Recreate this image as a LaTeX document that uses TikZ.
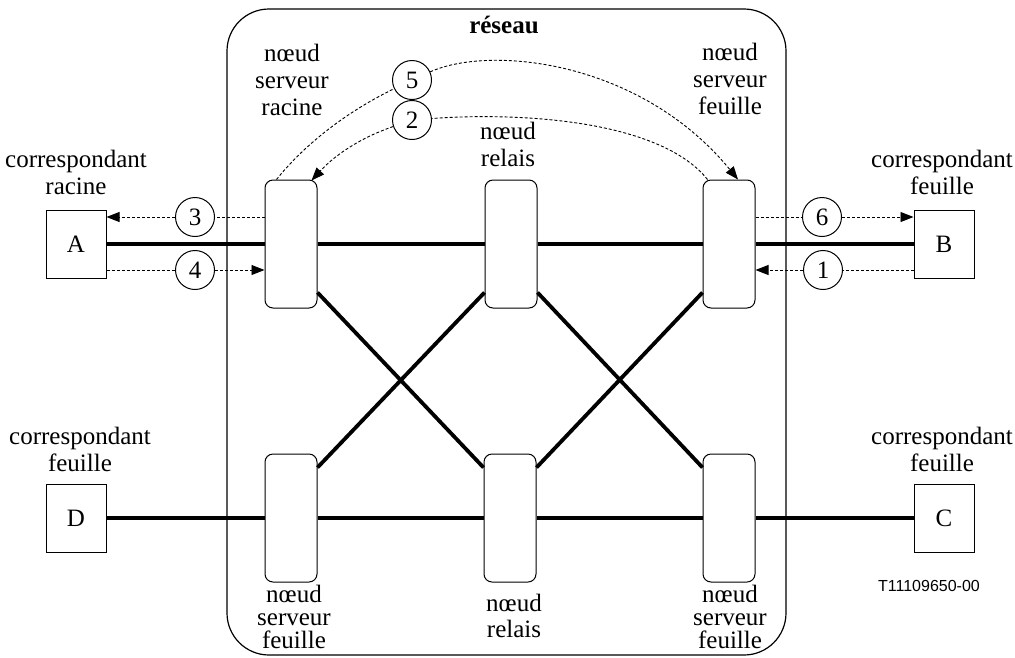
\documentclass[tikz,border=0pt]{standalone}
\usepackage{fontspec}
\setmainfont{Liberation Serif}
\newfontfamily\labelsans{Liberation Sans}
\usetikzlibrary{arrows.meta,calc}
\begin{document}
\begin{tikzpicture}[x=1pt,y=-1pt,
  every node/.style={font=\fontsize{25}{27}\selectfont},
  lbl/.style={align=center, inner sep=0pt},
  lbltight/.style={align=center, inner sep=0pt, font=\fontsize{25}{23}\selectfont},
  term/.style={draw, line width=1pt, minimum width=60pt, minimum height=68pt, inner sep=0pt},
  sw/.style={draw, line width=1pt, rounded corners=8pt, minimum width=52pt, minimum height=128pt, inner sep=0pt},
  num/.style={draw, circle, line width=1pt, minimum size=39pt, inner sep=0pt},
  link/.style={line width=3.8pt},
  sig/.style={line width=0.9pt, dash pattern=on 3pt off 2pt},
  tip/.style={-{Triangle[length=13pt,width=10pt]}},
]
\useasboundingbox (0,0) rectangle (1015,657);

% network boundary
\draw[line width=1.2pt, rounded corners=42pt] (227,9) rectangle (786,655);
\node[font=\bfseries\fontsize{25}{27}\selectfont] (title) at (504,25) {réseau};

% switching nodes
\node[sw] (n1) at (291,244) {};
\node[sw] (n2) at (511,244) {};
\node[sw] (n3) at (729,244) {};
\node[sw] (m1) at (291,518) {};
\node[sw] (m2) at (510,518) {};
\node[sw] (m3) at (729,518) {};

% end points
\node[term] (A) at (76,244) {A};
\node[term] (B) at (944,244) {B};
\node[term] (D) at (76,518) {D};
\node[term] (C) at (944,518) {C};

% physical links
\draw[link] (A) -- (n1) (n1) -- (n2) (n2) -- (n3) (n3) -- (B);
\draw[link] (D) -- (m1) (m1) -- (m2) (m2) -- (m3) (m3) -- (C);
\draw[link] ($(n1.south east)+(0,-16)$) -- ($(m2.north west)+(0,14)$);
\draw[link] ($(m1.north east)+(0,14)$) -- ($(n2.south west)+(0,-16)$);
\draw[link] ($(n2.south east)+(0,-16)$) -- ($(m3.north west)+(0,14)$);
\draw[link] ($(m2.north east)+(0,14)$) -- ($(n3.south west)+(0,-16)$);

% message step numbers
\node[num] (c3) at (195,217) {3};
\node[num] (c4) at (195,270) {4};
\node[num] (c6) at (822,217) {6};
\node[num] (c1) at (823,270) {1};
\node[num] (c5) at (412,80) {5};
\node[num] (c2) at (412,120) {2};

% signalling flows
\draw[sig] (c3 -| n1.west) -- (c3);
\draw[sig,tip] (c3) -- (c3 -| A.east);
\draw[sig] (c4 -| A.east) -- (c4);
\draw[sig,tip] (c4) -- (c4 -| n1.west);
\draw[sig] (c6 -| n3.east) -- (c6);
\draw[sig,tip] (c6) -- (c6 -| B.west);
\draw[sig] (c1 -| B.west) -- (c1);
\draw[sig,tip] (c1) -- (c1 -| n3.east);

\draw[sig] ($(n1.north west)+(12,0)$) .. controls (300,150) and (340,115) .. (c5);
\draw[sig,tip] (c5) .. controls (490,45) and (640,60) .. ($(n3.north)+(9,0)$);
\draw[sig] ($(n3.north west)+(5,0)$) .. controls (660,120) and (520,112) .. (c2);
\draw[sig,tip] (c2) .. controls (360,138) and (335,155) .. ($(n1.north east)+(-6,1)$);

% labels
\node[lbl] (lr) at (292,80) {nœud\\serveur\\racine};
\node[lbl] (lf) at (730,79) {nœud\\serveur\\feuille};
\node[lbl] (lrel) at (508,144) {nœud\\relais};
\node[lbltight] (bl) at (294,617) {nœud\\serveur\\feuille};
\node[lbl, font=\fontsize{25}{26}\selectfont] (bm) at (514,616) {nœud\\relais};
\node[lbltight] (br) at (730,617) {nœud\\serveur\\feuille};
\node[lbl] (la) at (76,172) {correspondant\\racine};
\node[lbl] (lb) at (942,172) {correspondant\\feuille};
\node[lbl] (ld) at (80,449) {correspondant\\feuille};
\node[lbl] (lc) at (942,449) {correspondant\\feuille};
\node[font=\labelsans\fontsize{16}{18}\selectfont] (ref) at (929,586) {T11109650-00};
\end{tikzpicture}
\end{document}
